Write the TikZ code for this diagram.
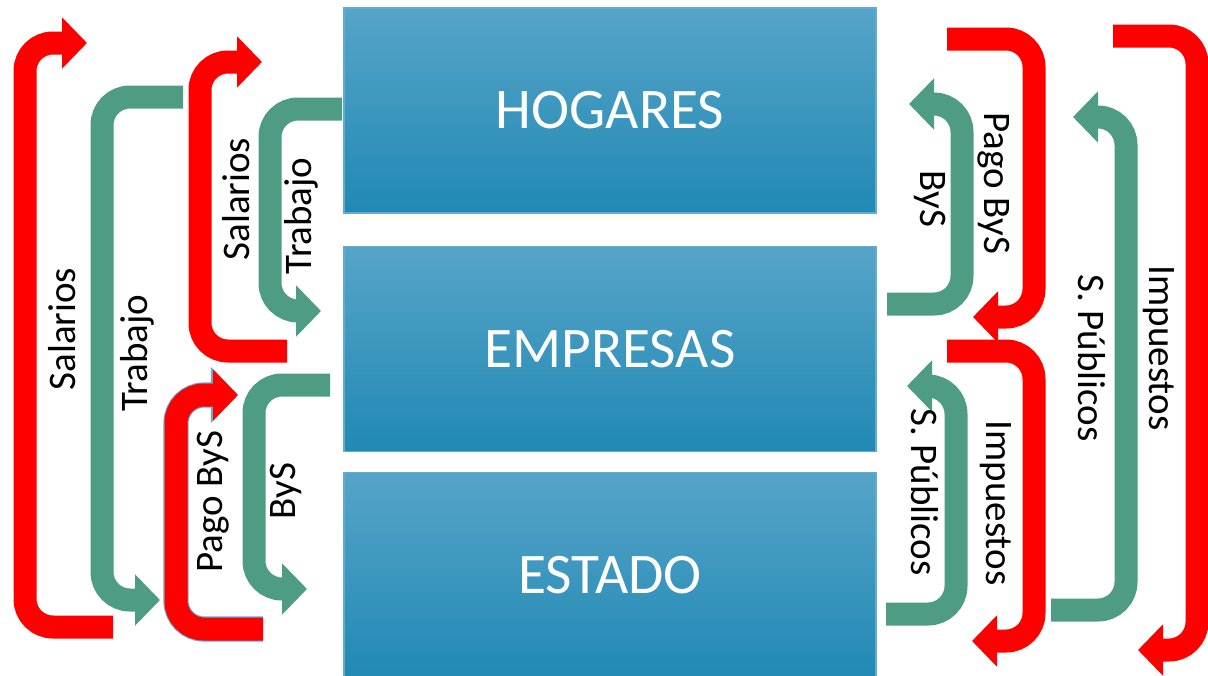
\documentclass[tikz,border=0pt]{standalone}
\usepackage{fontspec}
\setmainfont{Carlito}
\usepackage{xcolor}
\usetikzlibrary{arrows.meta,positioning}
\definecolor{flowred}{HTML}{FF0000}
\definecolor{flowgreen}{HTML}{4E9C83}
\definecolor{boxtop}{HTML}{56A4C8}
\definecolor{boxbottom}{HTML}{2189B4}
\definecolor{boxline}{HTML}{62ACD2}
\tikzset{%
  sector/.style={rectangle,draw=boxline,line width=0.6pt,top color=boxtop,bottom color=boxbottom,
    minimum width=266pt,minimum height=102.5pt,inner sep=0pt,text=white,font=\fontsize{28.7}{32}\selectfont},
  flow/.style={line width=11.5pt,rounded corners=14pt,-{Triangle[length=12.5pt,width=25pt]}},
  money/.style={flow,draw=flowred},
  goods/.style={flow,draw=flowgreen},
  outlined/.style={preaction={draw=boxline,line width=12.6pt,-{Triangle[length=13.6pt,width=27.4pt]}}},
  tag/.style={font=\fontsize{19.5}{22}\selectfont,inner sep=0pt},
  up/.style={tag,rotate=90},
  down/.style={tag,rotate=-90},
}

\begin{document}
\begin{tikzpicture}[x=0.5pt,y=-0.5pt]
      \useasboundingbox (0,0) rectangle (1208,675);
      \node[sector] (hog) at (610,110.5) {HOGARES};
      \node[sector,below=16pt of hog] (emp) {EMPRESAS};
      \node[sector,below=10pt of emp] (est) {ESTADO};

      % left side
      \draw[money] (113,627) -- (25,627) -- (25,43) -- (87,43);
      \draw[goods] (183,97) -- (102,97) -- (102,600) -- (160,600);
      \draw[money] (287,351) -- (200,351) -- (200,62) -- (262,62);
      \draw[goods] (342,109) -- (270,109) -- (270,311) -- (321,311);
      \draw[money,outlined] (263,629) -- (176,629) -- (176,395) -- (238,395);
      \draw[goods] (330,385) -- (254,385) -- (254,589) -- (307,589);

      % right side
      \draw[money] (947,39) -- (1034,39) -- (1034,317) -- (973,317);
      \draw[goods] (887,304) -- (962,304) -- (962,104) -- (909,104);
      \draw[money] (1113,36) -- (1197,36) -- (1197,650) -- (1138,650);
      \draw[goods] (1051,610) -- (1126,610) -- (1126,117) -- (1073,117);
      \draw[money] (947,351) -- (1034,351) -- (1034,641) -- (972,641);
      \draw[goods] (886,614) -- (956,614) -- (956,386) -- (907,386);

      \node[up] (sal1) at (62,329) {Salarios};
      \node[up] (tra1) at (137,353) {Trabajo};
      \node[up] (sal2) at (236,199) {Salarios};
      \node[up] (tra2) at (301,216) {Trabajo};
      \node[up] (pag1) at (213,502) {Pago ByS};
      \node[up] (bys1) at (286,491) {ByS};
      \node[down] (pag2) at (994,183) {Pago ByS};
      \node[down] (bys2) at (930,199) {ByS};
      \node[down] (spu1) at (1092,358) {S. Públicos};
      \node[down] (imp1) at (1159,348) {Impuestos};
      \node[down] (imp2) at (996,503) {Impuestos};
      \node[down] (spu2) at (925,492) {S. Públicos};
    \end{tikzpicture}
\end{document}
